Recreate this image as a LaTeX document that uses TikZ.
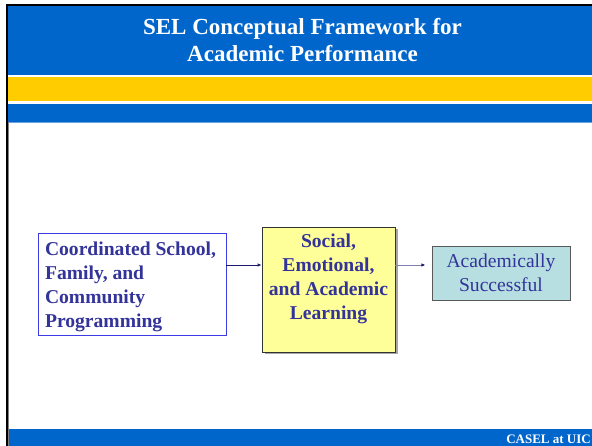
\documentclass[tikz,border=0pt]{standalone}
\usepackage{fontspec}
\setmainfont{Liberation Serif}
\usetikzlibrary{arrows.meta}
\definecolor{bandblue}{HTML}{0066CC}
\definecolor{bandyellow}{HTML}{FFCC00}
\definecolor{txtblue}{HTML}{333399}
\definecolor{boxblue}{HTML}{3C3CE6}
\definecolor{lightyellow}{HTML}{FFFF99}
\definecolor{lightteal}{HTML}{B7DFE2}
\definecolor{navy}{HTML}{1A1A6E}
\begin{document}
\begin{tikzpicture}[x=1pt,y=-1pt,
  titletext/.style={font=\fontsize{23}{27}\selectfont\bfseries, text=white, anchor=base, inner sep=0pt},
  boxtext/.style={font=\fontsize{19.6}{24}\selectfont\bfseries, text=txtblue},
  conn/.style={-{Latex[length=4pt,width=3.5pt]}, navy, line width=0.8pt}]
\useasboundingbox (0,0) rectangle (592,446);
\fill[white] (0,0) rectangle (592,446);
% bands
\fill[bandblue] (7,5.5) rectangle (592,75);
\fill[bandyellow] (7,76.7) rectangle (592,101);
\fill[bandblue] (7,104) rectangle (592,121.7);
\draw[bandblue!60, line width=0.6pt] (7,122) -- (592,122);
\fill[bandblue] (7,429) rectangle (592,446);
% frame lines
\draw[black, line width=1.5pt] (7,446) -- (7,5) -- (592,5);
\draw[gray, line width=0.6pt] (8.3,122) -- (8.3,446);
% title
\node[titletext] (title1) at (302.5,35) {SEL Conceptual Framework for};
\node[titletext] (title2) at (302.5,62) {Academic Performance};
% footer
\node[font=\fontsize{13}{15}\selectfont\bfseries, text=white, anchor=base east, inner sep=0pt] (footer) at (591,443) {CASEL at UIC};
% boxes
\node[draw=boxblue, line width=0.8pt, fill=white, minimum width=188pt, minimum height=102pt, inner sep=0pt] (b1) at (132,284) {};
\node[boxtext, align=left, anchor=west] (t1) at (41.5,287) {Coordinated School,\\Family, and\\Community\\Programming};
\fill[gray!70] (264.5,229.5) rectangle (397.5,354.5);
\node[draw=black!80, line width=0.8pt, fill=lightyellow, minimum width=133pt, minimum height=125pt, inner sep=0pt] (b2) at (328.5,289.5) {};
\node[boxtext, align=center] (t2) at (328.5,278.5) {Social,\\Emotional,\\and Academic\\Learning};
\node[draw=black!65, line width=0.8pt, fill=lightteal, minimum width=138pt, minimum height=54pt, inner sep=0pt, font=\fontsize{19.6}{24}\selectfont, text=txtblue, align=center] (b3) at (501,273) {Academically\\Successful};
% connectors
\draw[conn] (b1.east |- 0,265) -- (b2.west |- 0,265);
\draw[-{Latex[length=4pt,width=3.5pt,color=navy]}, navy!55, line width=0.8pt] (b2.east |- 0,265) -- ++(30,0) coordinate (a2end);
\end{tikzpicture}
\end{document}
